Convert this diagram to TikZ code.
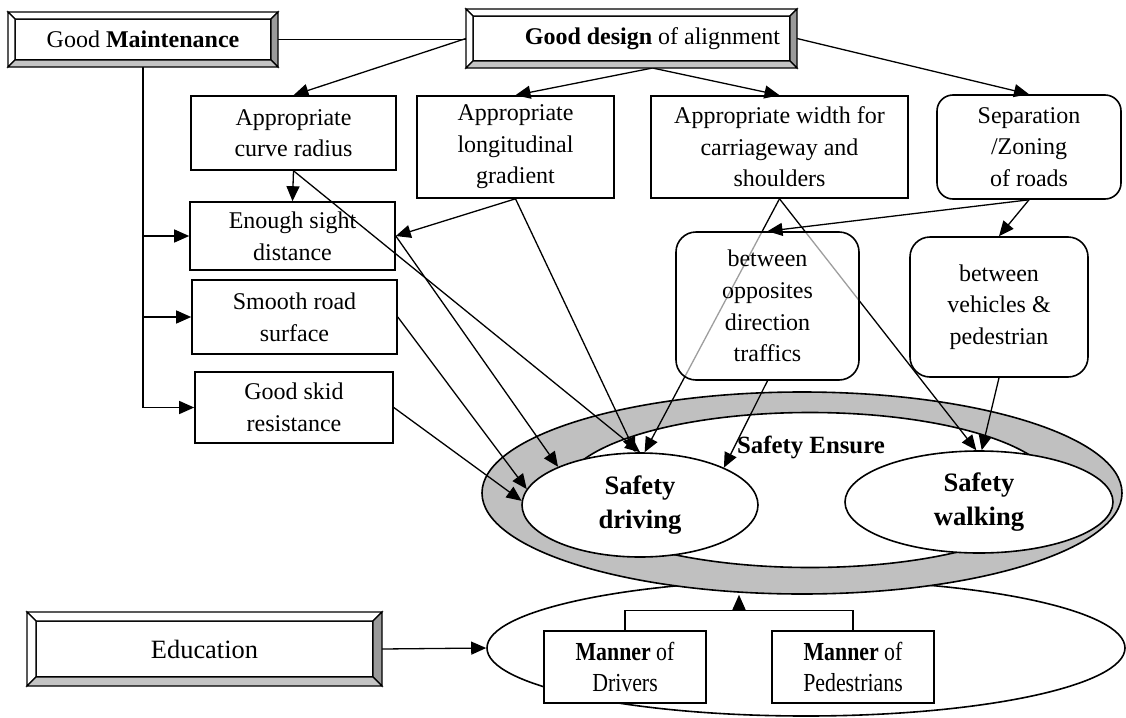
\documentclass[tikz,border=0pt]{standalone}
\usepackage{fontspec}
\setmainfont{Liberation Serif}
\newfontfamily\condserif[FakeStretch=0.84]{Liberation Serif}
\usetikzlibrary{arrows.meta,calc,shapes.geometric}
\definecolor{bevdark}{HTML}{9A9A9A}
\definecolor{bevlight}{HTML}{C4C4C4}
\definecolor{ringgray}{HTML}{C0C0C0}

% raised frame around a node whose outer sep equals the bevel depth
\newcommand\bevelframe[2]{%
  \filldraw[bevline,fill=white] (#1.north west) -- (#1.north east) -- ($(#1.north east)+(-#2,#2)$) -- ($(#1.north west)+(#2,#2)$) -- cycle;
  \filldraw[bevline,fill=white] (#1.north west) -- (#1.south west) -- ($(#1.south west)+(#2,-#2)$) -- ($(#1.north west)+(#2,#2)$) -- cycle;
  \filldraw[bevline,fill=bevdark] (#1.north east) -- (#1.south east) -- ($(#1.south east)+(-#2,-#2)$) -- ($(#1.north east)+(-#2,#2)$) -- cycle;
  \filldraw[bevline,fill=bevlight] (#1.south west) -- (#1.south east) -- ($(#1.south east)+(-#2,-#2)$) -- ($(#1.south west)+(#2,-#2)$) -- cycle;
}

\begin{document}
\begin{tikzpicture}[x=0.5pt,y=-0.5pt,
  txt/.style={font=\fontsize{12}{15.8}\selectfont},
  box/.style={txt,draw,line width=0.8pt,fill=white,align=center,inner sep=0pt},
  rbox/.style={box,rounded corners=8pt},
  bevbox/.style={box,outer sep=#1},
  bevline/.style={line width=0.6pt,line join=miter},
  ell/.style={draw,line width=0.8pt,ellipse,inner sep=0pt},
  bigtxt/.style={font=\fontsize{13.3}{16.7}\selectfont\bfseries},
  mannerbox/.style={box,font=\condserif\fontsize{13}{15.5}\selectfont,minimum width=81pt,minimum height=36pt},
  ln/.style={line width=0.65pt},
  arr/.style={ln,-{Triangle[length=7.5pt,width=6.5pt]}}]
\useasboundingbox (0,0) rectangle (1126,718);

% lower ellipse, the "safety ensure" ring and its two goals
\node[ell,fill=white,minimum width=319pt,minimum height=68pt] (bot) at (806,648) {};
\node[ell,fill=ringgray,minimum width=320pt,minimum height=101pt] (ring) at (802,493) {};
\node[ell,fill=white,minimum width=246pt,minimum height=77.5pt] (ringin) at (810,490) {};
\node[ell,fill=white,minimum width=118pt,minimum height=52pt,bigtxt,align=center] (drv) at (640,505) {Safety\\driving};
\node[ell,fill=white,minimum width=134pt,minimum height=51pt,bigtxt,align=center] (wlk) at (979,502) {Safety\\walking};
\node[font=\fontsize{12.4}{15}\selectfont\bfseries] (ens) at (811,447) {Safety Ensure};

% raised boxes
\node[bevbox=3.5pt,minimum width=128pt,minimum height=20.5pt] (maint) at (143,39.5) {Good \textbf{Maintenance}};
\node[bevbox=3.5pt,minimum width=158.5pt,minimum height=22.5pt] (design) at (631.5,38.5) {\hspace*{21pt}\textbf{Good design} of alignment};
\node[bevbox=4.5pt,minimum width=168.5pt,minimum height=28pt,font=\fontsize{13.2}{16}\selectfont] (edu) at (204.5,649) {Education};

% plain boxes
\node[box,minimum width=102.5pt,minimum height=37pt] (curve) at (293.5,133) {Appropriate\\curve radius};
\node[box,minimum width=102.5pt,minimum height=34pt] (sight) at (292.5,236) {Enough sight\\distance};
\node[box,minimum width=102.5pt,minimum height=37pt] (smooth) at (294.5,317) {Smooth road\\surface};
\node[box,minimum width=99pt,minimum height=35.5pt] (skid) at (294,407.5) {Good skid\\resistance};
\node[box,minimum width=98.5pt,minimum height=51pt] (longi) at (515.5,147) {Appropriate\\longitudinal\\gradient};
\node[box,minimum width=128.5pt,minimum height=51pt] (width) at (779.5,147) {Appropriate width for\\carriageway and\\shoulders};
\node[rbox,minimum width=92pt,minimum height=52pt] (sep) at (1029,147) {Separation\\/Zoning\\of roads};
\node[rbox,rounded corners=10pt,minimum width=89pt,minimum height=70pt] (veh) at (999,307) {between\\vehicles \&\\pedestrian};
\node[mannerbox] (mdrv) at (625,667) {\textbf{Manner} of\\Drivers};
\node[mannerbox] (mped) at (853,667) {\textbf{Manner} of\\Pedestrians};

% connectors
\coordinate (dfoot) at ($(design.south)+(21,0)$);
\draw[ln] (maint.east) -- (maint.east -| design.west);
\draw[arr] (design.west) -- (curve.north);
\draw[arr] (dfoot) -- (longi.north);
\draw[arr] (dfoot) -- (width.north);
\draw[arr] (design.east) -- (sep.north);
\draw[arr] (maint.south) |- (skid.west);
\draw[arr] (maint.south |- sight.west) -- (sight.west);
\draw[arr] (maint.south |- smooth.west) -- (smooth.west);
\draw[arr] (curve.south) -- (sight.north);
\draw[arr] (curve.south) -- (drv.90);
\draw[arr] (longi.south) -- (sight.east);
\draw[arr] (longi.south) -- (drv.95);
\draw[arr] (sight.east) -- (drv.155);
\draw[arr] (smooth.east) -- (drv.172);
\draw[arr] (skid.east) -- (drv.178);
\draw[arr] (width.south) -- (drv.85);
\draw[arr] (width.south) -- (wlk.93);

% translucent box: the lines behind it show through in grey
\node[rbox,rounded corners=10pt,fill opacity=0.62,text opacity=1,minimum width=91.5pt,minimum height=74pt] (opp) at (767.5,306) {between\\opposites\\direction\\traffics};

\draw[arr] (sep.south) -- (opp.north);
\draw[arr] (sep.south) -- (veh.north);
\draw[arr] (opp.south) -- (drv.24);
\draw[arr] (veh.south) -- (wlk.87);
\draw[arr] (edu.east) -- (bot.west);
\draw[ln] (mdrv.north) -- ++(0,-20) -| (mped.north);
\coordinate (join) at ($(mdrv.north)!0.5!(mped.north)+(0,-20)$);
\draw[arr] (join) -- (join |- ring.south);

% bevels of the raised boxes
\bevelframe{maint}{7}
\bevelframe{design}{7}
\bevelframe{edu}{9}
\end{tikzpicture}
\end{document}
